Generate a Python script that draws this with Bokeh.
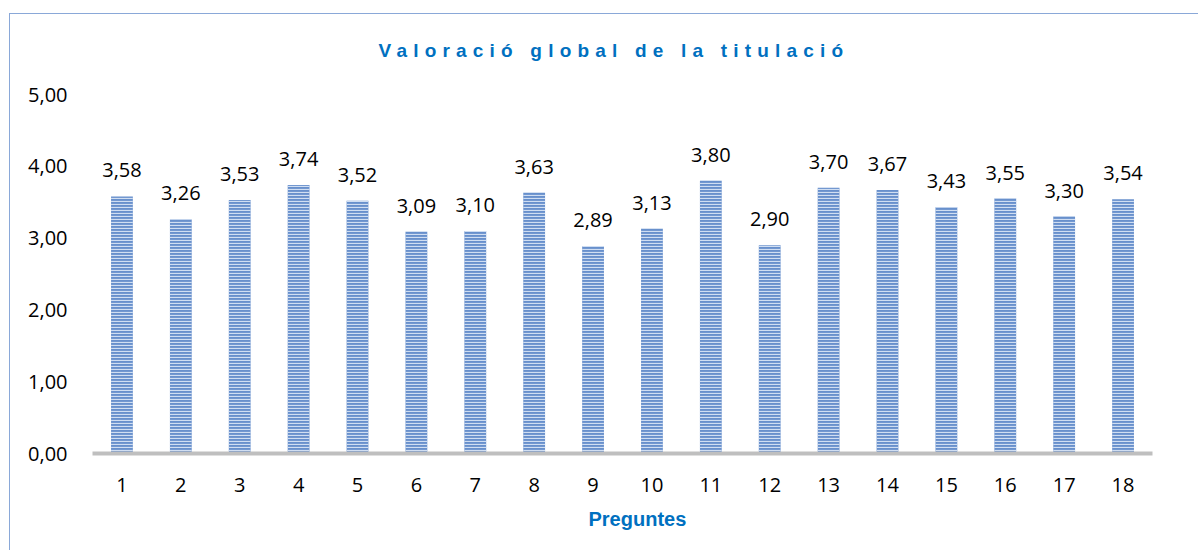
from bokeh.plotting import figure
from bokeh.models import ColumnDataSource, FixedTicker, LabelSet, Title, Div
from bokeh.layouts import column
from bokeh.core.properties import value
from bokeh.embed import file_html
from bokeh.resources import INLINE

# ---- data ----
categories = [str(i) for i in range(1, 19)]
values = [3.58, 3.26, 3.53, 3.74, 3.52, 3.09, 3.10, 3.63, 2.89,
          3.13, 3.80, 2.90, 3.70, 3.67, 3.43, 3.55, 3.30, 3.54]
y_ticks = [0, 1, 2, 3, 4, 5]
y_tick_labels = ["0,00", "1,00", "2,00", "3,00", "4,00", "5,00"]
title_text = "Valoració global de la titulació"
x_title = "Preguntes"

value_labels = [f"{v:.2f}".replace(".", ",") for v in values]
source = ColumnDataSource(dict(cat=categories, val=values, lbl=value_labels))

BLUE_TXT = "#0070C0"
FONT = "Open Sans"
FS = "20px"

title_div = Div(
    text=('<div style="box-sizing:border-box; width:1184px; padding-top:23px; '
          'padding-left:24px; text-align:center; letter-spacing:6.2px; '
          'font-family:\'Liberation Sans\',Arial,sans-serif; font-weight:bold; '
          'font-size:19px; color:%s; white-space:nowrap;">%s</div>'
          % (BLUE_TXT, title_text)),
    width=1184, height=50, margin=0,
)

p = figure(
    x_range=categories, y_range=(0, 5),
    width=1188, height=486, margin=0,
    output_backend="svg", toolbar_location=None,
    min_border_left=82, min_border_right=46,
    min_border_top=30, min_border_bottom=97,
)
p.outline_line_color = None
p.background_fill_color = "white"
p.border_fill_color = "white"
p.xgrid.grid_line_color = None
p.ygrid.grid_line_color = None

p.vbar(x="cat", top="val", bottom=0, width=0.37, source=source,
       fill_color="#6890CC", line_color=None,
       hatch_pattern="horizontal_line", hatch_color="#D0DEF2",
       hatch_scale=3, hatch_weight=1.2)

labels = LabelSet(x="cat", y="val", text="lbl", source=source,
                  y_offset=19, text_align="center", text_baseline="alphabetic",
                  text_font=value(FONT), text_font_size=FS, text_color="#000000")
p.add_layout(labels)

# y axis: labels only
p.yaxis.ticker = FixedTicker(ticks=y_ticks)
p.yaxis.major_label_overrides = {t: l for t, l in zip(y_ticks, y_tick_labels)}
p.yaxis.axis_line_color = None
p.yaxis.major_tick_line_color = None
p.yaxis.minor_tick_line_color = None
p.yaxis.major_label_standoff = 19
p.yaxis.major_label_text_font = FONT
p.yaxis.major_label_text_font_size = FS
p.yaxis.major_label_text_color = "#000000"

# x axis
p.xaxis.axis_line_color = "#BFBFBF"
p.xaxis.axis_line_width = 4
p.xaxis.major_tick_line_color = None
p.xaxis.minor_tick_line_color = None
p.xaxis.major_label_standoff = 18
p.xaxis.major_label_text_font = FONT
p.xaxis.major_label_text_font_size = FS
p.xaxis.major_label_text_color = "#000000"
p.x_range.range_padding = 0

xlab = Title(text=x_title, align="left", offset=496, standoff=22,
             text_font="Liberation Sans", text_font_style="bold",
             text_font_size="20px", text_color=BLUE_TXT)
p.add_layout(xlab, "below")

layout = column(title_div, p, spacing=0,
                styles={"border-top": "1px solid #8AA8D8",
                        "border-left": "1px solid #8AA8D8",
                        "margin-top": "13px", "margin-left": "9px",
                        "background": "white"})

with open("out.html", "w") as f:
    f.write(file_html(layout, INLINE))
